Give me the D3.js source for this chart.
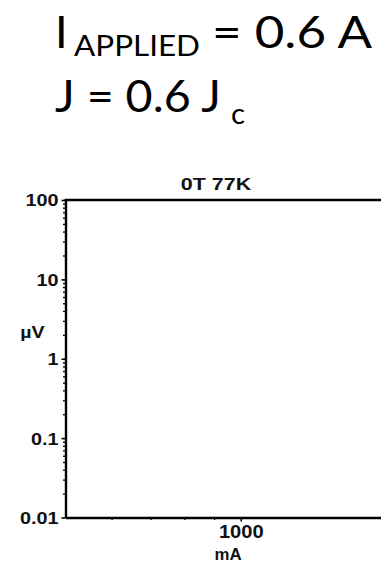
<!DOCTYPE html>
<html><head><meta charset="utf-8">
<script src="https://cdn.jsdelivr.net/npm/d3@7"></script>
<style>
html,body{margin:0;padding:0;background:#fff;}
svg{display:block;}
</style></head>
<body>
<script>
// ---- data ----
const chartTitle = "0T 77K";
const xLabel = "mA";
const yLabel = "\u00B5V";
const xDomain = [500, 2000];
const yDomain = [0.01, 100];
const xMajorTicks = [1000];
const xMinorTicks = [600, 700, 800, 900];
const yMajorTicks = [0.01, 0.1, 1, 10, 100];
const yTickLabels = ["0.01", "0.1", "1", "10", "100"];
const yMinorMultipliers = [2, 3, 4, 5, 6, 7, 8, 9];

(function () {
const W = 381, H = 562;
const svg = d3.select("body").append("svg").attr("width", W).attr("height", H);

const stretch = (sel, k) => sel.each(function () {
  const w = this.getComputedTextLength();
  d3.select(this).attr("textLength", w * k).attr("lengthAdjust", "spacingAndGlyphs");
});

// ---- headline text ----
const fontHead = "Lato, 'Open Sans', sans-serif";
const head = (txt, xx, yy, size, len) => {
  const t = svg.append("text")
    .attr("x", xx).attr("y", yy).attr("font-family", fontHead)
    .attr("font-size", size).attr("fill", "#000").text(txt);
  if (len) t.attr("textLength", len).attr("lengthAdjust", "spacingAndGlyphs");
  return t;
};
head("I", 55, 48, 45, null);
head("APPLIED", 74, 56, 28, 126);
head("= 0.6 A", 212, 48, 45, 160);
head("J = 0.6 J", 55, 112, 45, 166);
head("c", 231, 124, 28, 14);

// ---- chart ----
const mLeft = 65.5, mTop = 200, mBottom = 517.5;
const x = d3.scaleLog().domain(xDomain).range([mLeft, 416]);
const y = d3.scaleLog().domain(yDomain).range([mBottom, mTop]);
const fontChart = "'Liberation Sans', Arial, sans-serif";

const g = svg.append("g").attr("font-family", fontChart).attr("font-weight", "bold");

// top frame line
g.append("line").attr("x1", x(xDomain[0]) - 1).attr("x2", x(xDomain[1]))
  .attr("y1", y(yDomain[1])).attr("y2", y(yDomain[1]))
  .attr("stroke", "#000").attr("stroke-width", 2.4);

// y axis
const yMinor = [];
for (let i = 0; i < yMajorTicks.length - 1; i++)
  yMinorMultipliers.forEach(m => yMinor.push(yMajorTicks[i] * m));

const yAxis = d3.axisLeft(y).tickValues(yMajorTicks)
  .tickFormat((d, i) => yTickLabels[i]).tickSize(4).tickPadding(3).tickSizeOuter(0);
const ya = g.append("g").attr("transform", `translate(${mLeft},0)`).call(yAxis);
ya.select(".domain").attr("stroke-width", 2.4);
ya.selectAll(".tick line").attr("stroke-width", 1.6);
ya.selectAll("text").attr("font-size", 16.5).attr("font-weight", "bold")
  .attr("font-family", fontChart).attr("fill", "#111").attr("dy", "0.36em");
stretch(ya.selectAll("text"), 1.2);

const yAxisMinor = d3.axisLeft(y).tickValues(yMinor).tickFormat("").tickSize(2.5);
const yam = g.append("g").attr("transform", `translate(${mLeft},0)`).call(yAxisMinor);
yam.select(".domain").remove();
yam.selectAll(".tick line").attr("stroke-width", 1.3);

// x axis
const xAxis = d3.axisBottom(x).tickValues(xMajorTicks).tickFormat(d3.format("d"))
  .tickSize(4).tickPadding(4).tickSizeOuter(0);
const xa = g.append("g").attr("transform", `translate(0,${mBottom})`).call(xAxis);
xa.select(".domain").attr("stroke-width", 2.6);
xa.selectAll(".tick line").attr("stroke-width", 1.6);
xa.selectAll("text").attr("font-size", 17.5).attr("font-weight", "bold")
  .attr("font-family", fontChart).attr("fill", "#111");
stretch(xa.selectAll("text"), 1.15);

const xAxisMinor = d3.axisBottom(x).tickValues(xMinorTicks).tickFormat("").tickSize(2.5);
const xam = g.append("g").attr("transform", `translate(0,${mBottom})`).call(xAxisMinor);
xam.select(".domain").remove();
xam.selectAll(".tick line").attr("stroke-width", 1.3);

// title & labels
const lab = (txt, xx, yy, size, k) => {
  const t = g.append("text").attr("x", xx).attr("y", yy).attr("text-anchor", "middle")
    .attr("font-size", size).attr("fill", "#111").text(txt);
  stretch(t, k);
};
lab(chartTitle, 216, 190, 16.5, 1.3);
lab(xLabel, 228, 560, 16, 1.05);
lab(yLabel, 32.5, 338, 17, 1.15);
})();
</script>
</body></html>
